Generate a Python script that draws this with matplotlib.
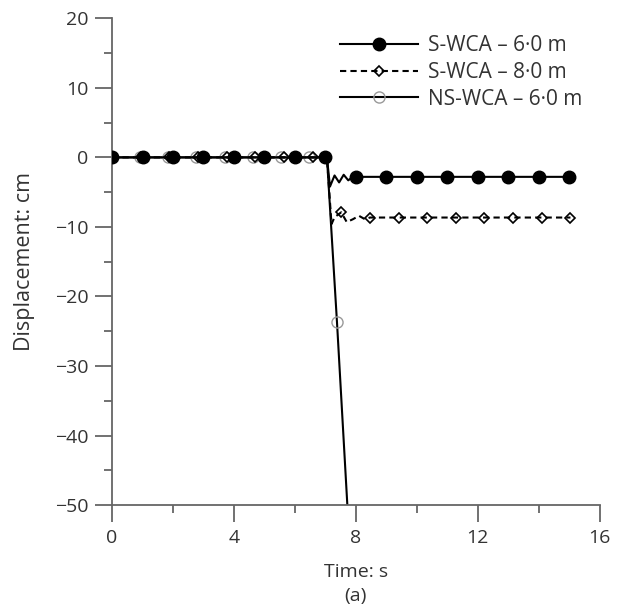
import numpy as np
import matplotlib
matplotlib.use("Agg")
import matplotlib.pyplot as plt
from matplotlib.ticker import MultipleLocator

plt.rcParams['font.family'] = ['Open Sans', 'DejaVu Sans']

# S-WCA - 6.0 m (filled circles at every second)
t_s6 = [0, 1, 2, 3, 4, 5, 6, 7, 7.05, 7.15, 7.3, 7.45, 7.6, 7.75, 7.9,
        8, 9, 10, 11, 12, 13, 14, 15]
d_s6 = [0, 0, 0, 0, 0, 0, 0, 0, 0, -4.2, -2.6, -3.6, -2.5, -3.3, -2.8,
        -2.8, -2.8, -2.8, -2.8, -2.8, -2.8, -2.8, -2.8]
mk_s6 = [0, 1, 2, 3, 4, 5, 6, 7, 15, 16, 17, 18, 19, 20, 21, 22]

# S-WCA - 8.0 m (open diamonds)
t_s8 = [0, 0.94, 1.88, 2.82, 3.76, 4.7, 5.64, 6.58, 7.05, 7.2, 7.3, 7.52,
        7.7, 7.9, 8.1, 8.3, 8.46, 9.4, 10.34, 11.28, 12.22, 13.16, 14.1, 15.04]
d_s8 = [0, 0, 0, 0, 0, 0, 0, 0, 0, -9.6, -8.6, -7.9,
        -9.3, -8.9, -8.4, -8.9, -8.65, -8.65, -8.65, -8.65, -8.65, -8.65, -8.65, -8.65]
mk_s8 = [0, 1, 2, 3, 4, 5, 6, 7, 11, 16, 17, 18, 19, 20, 21, 22, 23]

# NS-WCA - 6.0 m (open grey circles)
t_ns6 = [0, 0.92, 1.84, 2.77, 3.69, 4.61, 5.54, 6.46, 7.05, 7.38, 7.72]
d_ns6 = [0, 0, 0, 0, 0, 0, 0, 0, 0, -23.7, -50]
mk_ns6 = [0, 1, 2, 3, 4, 5, 6, 7, 9]

labels = ["S-WCA \u2013 6\u00b70 m", "S-WCA \u2013 8\u00b70 m", "NS-WCA \u2013 6\u00b70 m"]

txt = '#333333'
fig = plt.figure(figsize=(6.26, 6.10), dpi=100)
ax = fig.add_axes([0.179, 0.172, 0.779, 0.798])

ax.plot(t_ns6, d_ns6, '-', color='black', lw=1.5, marker='o', ms=8,
        mfc='none', mec='#999999', mew=1.0, markevery=mk_ns6, label=labels[2], zorder=2)
ax.plot(t_s8, d_s8, '--', color='black', lw=1.5, marker='D', ms=5.5,
        mfc='none', mec='black', mew=1.2, markevery=mk_s8, label=labels[1], zorder=3,
        dashes=(3, 2))
ax.plot(t_s6, d_s6, '-', color='black', lw=1.5, marker='o', ms=9,
        mfc='black', mec='black', markevery=mk_s6, label=labels[0], zorder=4)

ax.set_xlim(0, 16)
ax.set_ylim(-50, 20)
ax.xaxis.set_major_locator(MultipleLocator(4))
ax.xaxis.set_minor_locator(MultipleLocator(2))
ax.yaxis.set_major_locator(MultipleLocator(10))
ax.yaxis.set_minor_locator(MultipleLocator(5))

for side in ['top', 'right']:
    ax.spines[side].set_visible(False)
for side in ['left', 'bottom']:
    ax.spines[side].set_color('#666666')
    ax.spines[side].set_linewidth(1.3)

ax.tick_params(which='major', direction='out', length=12, width=1.3,
               color='#666666', labelsize=14, labelcolor=txt, pad=5)
ax.tick_params(which='minor', direction='out', length=6, width=1.3, color='#666666')

ax.set_xlabel("Time: s\n(a)", fontsize=14, color=txt, labelpad=12, linespacing=1.4)
ax.set_ylabel("Displacement: cm", fontsize=15.5, color=txt, labelpad=14)

h, l = ax.get_legend_handles_labels()
ax.legend(h[::-1], l[::-1], loc='upper left', frameon=False, fontsize=15,
          handlelength=3.75, handletextpad=0.48, labelspacing=0.27,
          bbox_to_anchor=(0.451, 0.982), borderaxespad=0.0, labelcolor=txt)

fig.savefig("out.png", dpi=100)
